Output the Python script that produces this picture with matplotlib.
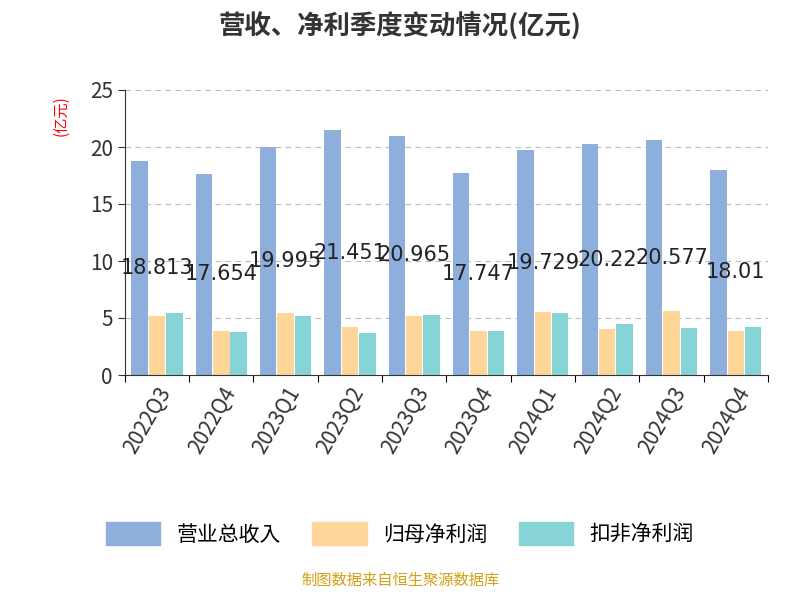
import matplotlib
matplotlib.use("Agg")
import matplotlib.pyplot as plt
import numpy as np

plt.rcParams['font.family'] = ['Noto Sans CJK JP', 'Noto Sans CJK SC', 'DejaVu Sans']

quarters = ["2022Q3","2022Q4","2023Q1","2023Q2","2023Q3","2023Q4","2024Q1","2024Q2","2024Q3","2024Q4"]
revenue = [18.813,17.654,19.995,21.451,20.965,17.747,19.729,20.22,20.577,18.01]
revenue_labels = ["18.813","17.654","19.995","21.451","20.965","17.747","19.729","20.22","20.577","18.01"]
net_profit = [5.2,3.9,5.4,4.2,5.2,3.9,5.5,4.0,5.6,3.9]
net_profit_deducted = [5.4,3.8,5.2,3.7,5.3,3.9,5.4,4.5,4.1,4.2]

fig = plt.figure(figsize=(8,6), dpi=100)
ax = fig.add_axes([0.156, 0.375, 0.804, 0.475])
x = np.arange(len(quarters))
w = 0.27
ax.bar(x - w, revenue, w*0.95, color='#8eaedc')
ax.bar(x, net_profit, w*0.95, color='#ffd699')
ax.bar(x + w, net_profit_deducted, w*0.95, color='#86d4d6')
for xi, v, lab in zip(x, revenue, revenue_labels):
    ax.text(xi, v/2, lab, ha='center', va='center', fontsize=15, color='#222222', fontfamily='DejaVu Sans')

ax.set_xlim(-0.5, len(quarters)-0.5)
ax.set_ylim(0, 25)
ax.set_yticks([0,5,10,15,20,25])
ax.tick_params(axis='y', labelsize=15, length=5, colors='#333333')
ax.set_xticks(np.arange(len(quarters)+1)-0.5, minor=False)
ax.set_xticklabels([])
ax.set_xticks(x, minor=True)
ax.set_xticklabels(quarters, minor=True, rotation=60, ha='right', rotation_mode='anchor', fontsize=15, color='#333333')
ax.tick_params(axis='x', which='minor', length=0, pad=6)
ax.tick_params(axis='x', which='major', length=5)
ax.grid(axis='y', linestyle=(0,(5,4)), color='#bbbbbb')
ax.set_axisbelow(True)
for s in ['top','right']:
    ax.spines[s].set_visible(False)
ax.spines['left'].set_color('#333333')
ax.spines['bottom'].set_color('#333333')
ax.text(-0.1, 0.91, "(亿元)", transform=ax.transAxes, rotation=90, color='red', fontsize=11, ha='center', va='center')

fig.text(0.5, 0.955, "营收、净利季度变动情况(亿元)", ha='center', va='center', fontsize=19, fontweight='bold', color='#333333')
handles = [plt.Rectangle((0,0),1,1,color=c) for c in ['#8eaedc','#ffd699','#86d4d6']]
fig.legend(handles, ["营业总收入","归母净利润","扣非净利润"], loc='center', bbox_to_anchor=(0.5, 0.11), ncol=3,
           frameon=False, fontsize=15, handlelength=2.6, handleheight=1.3, columnspacing=1.5)
fig.text(0.5, 0.018, "制图数据来自恒生聚源数据库", ha='center', va='bottom', fontsize=11, color='#d4a017')
fig.savefig("out.png")
